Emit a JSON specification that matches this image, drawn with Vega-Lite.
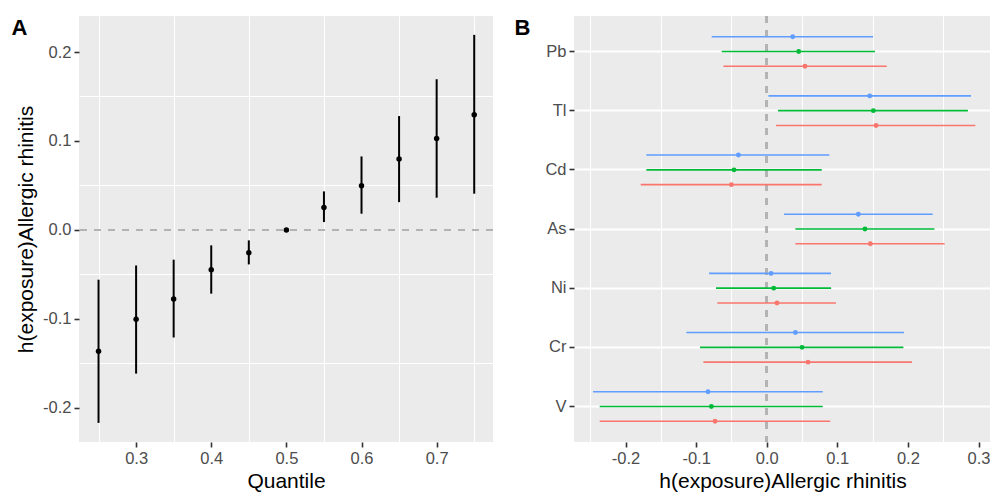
{
  "$schema": "https://vega.github.io/schema/vega-lite/v6.json",
  "padding": {"left": 11, "top": 15, "right": 0, "bottom": 0},
  "spacing": 20,
  "config": {
    "font": "Liberation Sans",
    "view": {"fill": "#EBEBEB", "stroke": null},
    "axis": {
      "labelFontSize": 16.5,
      "labelColor": "#4D4D4D",
      "labelPadding": 3,
      "titleFontSize": 21,
      "titleFontWeight": "normal",
      "titleColor": "#000000",
      "tickColor": "#333333",
      "tickSize": 5,
      "tickWidth": 1.6,
      "domain": false,
      "gridColor": "#FFFFFF",
      "gridWidth": 2
    }
  },
  "hconcat": [
    {
      "width": 414,
      "height": 426,
      "data": {"values": [
        {"quantile": 0.25, "est": -0.1365, "low": -0.217, "high": -0.056},
        {"quantile": 0.30, "est": -0.1006, "low": -0.1616, "high": -0.040},
        {"quantile": 0.35, "est": -0.0777, "low": -0.121, "high": -0.0335},
        {"quantile": 0.40, "est": -0.0448, "low": -0.0717, "high": -0.0174},
        {"quantile": 0.45, "est": -0.0256, "low": -0.0388, "high": -0.0118},
        {"quantile": 0.50, "est": 0.0, "low": 0.0, "high": 0.0},
        {"quantile": 0.55, "est": 0.0253, "low": 0.0088, "high": 0.0433},
        {"quantile": 0.60, "est": 0.0497, "low": 0.0182, "high": 0.0826},
        {"quantile": 0.65, "est": 0.0796, "low": 0.0312, "high": 0.128},
        {"quantile": 0.70, "est": 0.1028, "low": 0.0362, "high": 0.1694},
        {"quantile": 0.75, "est": 0.1294, "low": 0.0407, "high": 0.2193}
      ]},
      "layer": [
        {
          "mark": {"type": "point", "opacity": 0},
          "encoding": {
            "x": {"field": "quantile", "type": "quantitative", "scale": {"domain": [0.224, 0.775], "nice": false, "zero": false},
                  "axis": {"orient": "bottom", "values": [0.25, 0.35, 0.45, 0.55, 0.65, 0.75], "grid": true, "gridWidth": 1, "labels": false, "ticks": false, "title": null}},
            "y": {"field": "est", "type": "quantitative", "scale": {"domain": [-0.2385, 0.2405], "nice": false, "zero": false},
                  "axis": {"orient": "left", "values": [-0.15, -0.05, 0.05, 0.15], "grid": true, "gridWidth": 1, "labels": false, "ticks": false,
                           "title": "A", "titleAngle": 0, "titleX": -68, "titleY": 18, "titleAlign": "left", "titleBaseline": "alphabetic", "titleFontSize": 22, "titleFontWeight": "bold"}}
          }
        },
        {
          "mark": {"type": "rule", "color": "#B3B3B3", "strokeWidth": 2, "strokeDash": [7, 7]},
          "encoding": {"y": {"datum": 0, "type": "quantitative", "axis": null}}
        },
        {
          "mark": {"type": "rule", "color": "#000000", "strokeWidth": 2},
          "encoding": {
            "x": {"field": "quantile", "type": "quantitative", "axis": null},
            "y": {"field": "low", "type": "quantitative", "axis": null},
            "y2": {"field": "high"}
          }
        },
        {
          "mark": {"type": "circle", "color": "#000000", "opacity": 1, "size": 30},
          "encoding": {
            "x": {"field": "quantile", "type": "quantitative",
                  "axis": {"orient": "bottom", "values": [0.3, 0.4, 0.5, 0.6, 0.7], "format": ".1f", "title": "Quantile", "titlePadding": 4}},
            "y": {"field": "est", "type": "quantitative",
                  "axis": {"orient": "left", "values": [-0.2, -0.1, 0.0, 0.1, 0.2], "format": ".1f", "labelExpr": "replace(datum.label, '−', '-')", "title": "h(exposure)Allergic rhinitis", "titlePadding": 6}}
          }
        }
      ],
      "resolve": {"axis": {"x": "independent", "y": "independent"}}
    },
    {
      "width": 417,
      "height": 426,
      "data": {"values": [
        {"metal": "Pb", "q": "0.75", "est": 0.0368, "low": -0.0779, "high": 0.1506},
        {"metal": "Pb", "q": "0.5", "est": 0.0453, "low": -0.0637, "high": 0.1534},
        {"metal": "Pb", "q": "0.25", "est": 0.0542, "low": -0.0614, "high": 0.170},
        {"metal": "Tl", "q": "0.75", "est": 0.1459, "low": 0.0024, "high": 0.2894},
        {"metal": "Tl", "q": "0.5", "est": 0.151, "low": 0.016, "high": 0.285},
        {"metal": "Tl", "q": "0.25", "est": 0.1548, "low": 0.0132, "high": 0.2955},
        {"metal": "Cd", "q": "0.75", "est": -0.0401, "low": -0.1705, "high": 0.0887},
        {"metal": "Cd", "q": "0.5", "est": -0.0463, "low": -0.1705, "high": 0.0779},
        {"metal": "Cd", "q": "0.25", "est": -0.050, "low": -0.1785, "high": 0.0779},
        {"metal": "As", "q": "0.75", "est": 0.1298, "low": 0.0245, "high": 0.2351},
        {"metal": "As", "q": "0.5", "est": 0.1392, "low": 0.0406, "high": 0.2375},
        {"metal": "As", "q": "0.25", "est": 0.1468, "low": 0.0406, "high": 0.252},
        {"metal": "Ni", "q": "0.75", "est": 0.0061, "low": -0.0817, "high": 0.0911},
        {"metal": "Ni", "q": "0.5", "est": 0.0099, "low": -0.0718, "high": 0.0911},
        {"metal": "Ni", "q": "0.25", "est": 0.0146, "low": -0.070, "high": 0.0982},
        {"metal": "Cr", "q": "0.75", "est": 0.0406, "low": -0.1139, "high": 0.1945},
        {"metal": "Cr", "q": "0.5", "est": 0.050, "low": -0.0945, "high": 0.1936},
        {"metal": "Cr", "q": "0.25", "est": 0.0585, "low": -0.0897, "high": 0.2058},
        {"metal": "V", "q": "0.75", "est": -0.0831, "low": -0.246, "high": 0.0793},
        {"metal": "V", "q": "0.5", "est": -0.0784, "low": -0.2366, "high": 0.0793},
        {"metal": "V", "q": "0.25", "est": -0.0732, "low": -0.2366, "high": 0.090}
      ]},
      "layer": [
        {
          "mark": {"type": "point", "opacity": 0},
          "encoding": {
            "x": {"field": "est", "type": "quantitative", "scale": {"domain": [-0.273, 0.3177], "nice": false, "zero": false},
                  "axis": {"orient": "bottom", "values": [-0.25, -0.15, -0.05, 0.05, 0.15, 0.25], "grid": true, "gridWidth": 1, "labels": false, "ticks": false, "title": null}},
            "y": {"field": "metal", "type": "nominal", "sort": ["Pb", "Tl", "Cd", "As", "Ni", "Cr", "V"],
                  "scale": {"type": "band", "paddingInner": 0, "paddingOuter": 0.1},
                  "axis": {"orient": "left", "grid": true, "bandPosition": 0.5,
                           "title": "B", "titleAngle": 0, "titleX": -60, "titleY": 18, "titleAlign": "left", "titleBaseline": "alphabetic", "titleFontSize": 22, "titleFontWeight": "bold"}}
          }
        },
        {
          "mark": {"type": "rule", "color": "#B3B3B3", "strokeWidth": 2, "strokeDash": [7, 7]},
          "encoding": {"x": {"datum": 0, "type": "quantitative", "axis": null}}
        },
        {
          "mark": {"type": "rule", "strokeWidth": 1.6},
          "encoding": {
            "x": {"field": "low", "type": "quantitative", "axis": null},
            "x2": {"field": "high"},
            "y": {"field": "metal", "type": "nominal", "sort": ["Pb", "Tl", "Cd", "As", "Ni", "Cr", "V"], "axis": null},
            "yOffset": {"field": "q", "type": "nominal", "sort": ["0.75", "0.5", "0.25"], "scale": {"paddingInner": 0, "paddingOuter": 0.5}},
            "color": {"field": "q", "type": "nominal", "scale": {"domain": ["0.25", "0.5", "0.75"], "range": ["#F8766D", "#00BA38", "#619CFF"]}, "legend": null}
          }
        },
        {
          "mark": {"type": "circle", "opacity": 1, "size": 24},
          "encoding": {
            "x": {"field": "est", "type": "quantitative",
                  "axis": {"orient": "bottom", "values": [-0.2, -0.1, 0.0, 0.1, 0.2, 0.3], "format": ".1f", "labelExpr": "replace(datum.label, '−', '-')", "title": "h(exposure)Allergic rhinitis", "titlePadding": 4}},
            "y": {"field": "metal", "type": "nominal", "sort": ["Pb", "Tl", "Cd", "As", "Ni", "Cr", "V"], "axis": null},
            "yOffset": {"field": "q", "type": "nominal", "sort": ["0.75", "0.5", "0.25"], "scale": {"paddingInner": 0, "paddingOuter": 0.5}},
            "color": {"field": "q", "type": "nominal", "scale": {"domain": ["0.25", "0.5", "0.75"], "range": ["#F8766D", "#00BA38", "#619CFF"]}, "legend": null}
          }
        }
      ],
      "resolve": {"axis": {"x": "independent", "y": "independent"}}
    }
  ]
}
